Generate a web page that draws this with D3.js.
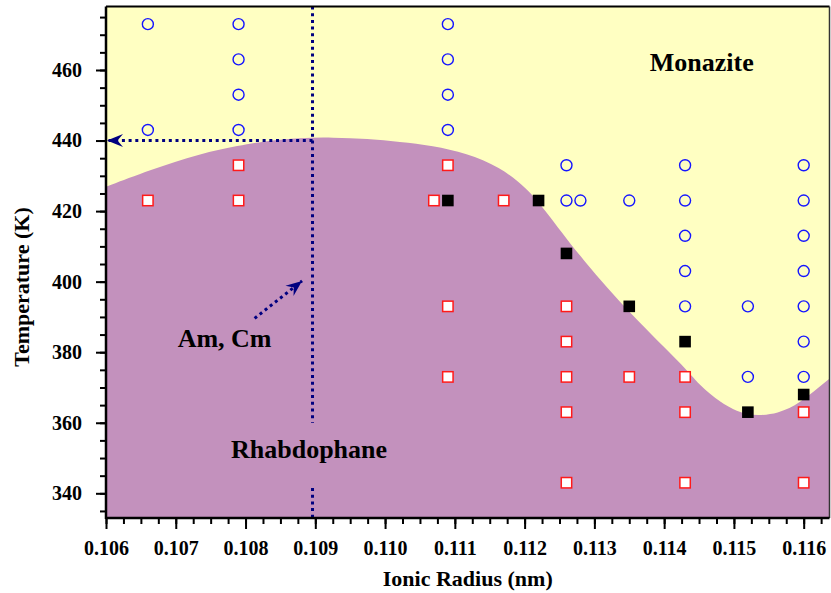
<!DOCTYPE html>
<html><head><meta charset="utf-8">
<script src="https://cdn.jsdelivr.net/npm/d3@7"></script>
<style>body{margin:0;background:#fff}text{font-family:"Liberation Serif","Times New Roman",serif;font-weight:bold}</style>
</head><body><svg id="c" width="831" height="593"></svg>
<script>
// ---- data ----
const xDomain = [0.106, 0.11637];
const yDomain = [333, 478];
const xTickValues = [0.106,0.107,0.108,0.109,0.110,0.111,0.112,0.113,0.114,0.115,0.116];
const yTickValues = [340,360,380,400,420,440,460];
// Monazite observed (blue open circles)
const monazitePts = [
 [0.1066,473],[0.1066,443],
 [0.1079,473],[0.1079,463],[0.1079,453],[0.1079,443],
 [0.1109,473],[0.1109,463],[0.1109,453],[0.1109,443],
 [0.1126,433],[0.1126,423],[0.1128,423],[0.1135,423],
 [0.1143,433],[0.1143,423],[0.1143,413],[0.1143,403],[0.1143,393],
 [0.1152,393],[0.1152,373],
 [0.1160,433],[0.1160,423],[0.1160,413],[0.1160,403],[0.1160,393],[0.1160,383],[0.1160,373]
];
// Rhabdophane observed (red open squares)
const rhabdoPts = [
 [0.1066,423],[0.1079,433],[0.1079,423],[0.1107,423],
 [0.1109,433],[0.1109,393],[0.1109,373],[0.1117,423],
 [0.1126,393],[0.1126,383],[0.1126,373],[0.1126,363],[0.1126,343],
 [0.1135,373],[0.1143,373],[0.1143,363],[0.1143,343],
 [0.1160,363],[0.1160,343]
];
// Transition (black filled squares)
const transitionPts = [
 [0.1109,423],[0.1122,423],[0.1126,408],[0.1135,393],[0.1143,383],[0.1152,363],[0.1160,368]
];
// Phase boundary
const boundary = [
 [0.10588,426],[0.1060,426.9],[0.10663,431.7],[0.10735,436.3],[0.10791,438.6],[0.10829,439.9],
 [0.10878,440.8],[0.10925,440.9],[0.10975,440.5],[0.11021,439.6],[0.11068,438.6],[0.11117,436.4],
 [0.11164,432.6],[0.11203,426.5],[0.11226,421.2],[0.11283,406.1],[0.11355,390.1],
 [0.11427,376.3],[0.11451,370.5],[0.1148,365.8],[0.11518,361.6],[0.11566,362.6],
 [0.11594,365.6],[0.11623,370.2],[0.11645,373.8],[0.1166,376]
];
const amCmRadius = 0.10896;
const amCmTemp = 440;
const vSegments = [[478,360],[341.5,333]];
const diagArrow = [[0.10813,389.6],[0.10881,400.2]];
const labels = [
 {t:"Monazite", x:0.11454, y:459.7},
 {t:"Rhabdophane", x:0.10891, y:349.9},
 {t:"Am, Cm", x:0.10770, y:381.4}
];

// ---- layout ----
const svg = d3.select("#c");
const L=106, T=6.5, R=829.5, B=518;
const x = d3.scaleLinear().domain(xDomain).range([L,R]);
const y = d3.scaleLinear().domain(yDomain).range([B,T]);
const navy="#000080";

svg.append("defs").append("clipPath").attr("id","clip").append("rect")
 .attr("x",L).attr("y",T).attr("width",R-L).attr("height",B-T);
svg.append("defs").append("marker").attr("id","ah").attr("markerUnits","userSpaceOnUse")
 .attr("viewBox","-18 -8 20 16").attr("refX",0).attr("refY",0)
 .attr("markerWidth",20).attr("markerHeight",16).attr("orient","auto")
 .append("path").attr("d","M0,0 L-16,-6.5 L-10.5,0 L-16,6.5 Z").attr("fill",navy);

const g = svg.append("g");
g.append("rect").attr("x",L).attr("y",T).attr("width",R-L).attr("height",B-T).attr("fill","#ffffc2");
g.append("path").datum(boundary).attr("clip-path","url(#clip)")
 .attr("d", d3.area().x(d=>x(d[0])).y0(y(yDomain[0])+2).y1(d=>y(d[1])).curve(d3.curveBasis))
 .attr("fill","#c391bd");

// dotted guide lines
vSegments.forEach(s=>{
 g.append("line").attr("x1",x(amCmRadius)).attr("x2",x(amCmRadius)).attr("y1",y(s[0])).attr("y2",y(s[1]))
  .attr("stroke",navy).attr("stroke-width",3).attr("stroke-dasharray","3,3.7");
});
g.append("line").attr("x1",x(amCmRadius)).attr("x2",x(xDomain[0])+1).attr("y1",y(amCmTemp)).attr("y2",y(amCmTemp))
 .attr("stroke",navy).attr("stroke-width",3).attr("stroke-dasharray","3,3.7").attr("marker-end","url(#ah)");
g.append("line").attr("x1",x(diagArrow[0][0])).attr("y1",y(diagArrow[0][1]))
 .attr("x2",x(diagArrow[1][0])).attr("y2",y(diagArrow[1][1]))
 .attr("stroke",navy).attr("stroke-width",3).attr("stroke-dasharray","3,3.5").attr("marker-end","url(#ah)");

// markers
g.selectAll(".mz").data(monazitePts).join("circle")
 .attr("cx",d=>x(d[0])).attr("cy",d=>y(d[1])).attr("r",5.5)
 .attr("fill","none").attr("stroke","#1515ff").attr("stroke-width",1.4);
g.selectAll(".rh").data(rhabdoPts).join("rect")
 .attr("x",d=>x(d[0])-5.2).attr("y",d=>y(d[1])-5.2).attr("width",10.4).attr("height",10.4)
 .attr("fill","#fff").attr("stroke","#ff1a1a").attr("stroke-width",1.5);
g.selectAll(".tr").data(transitionPts).join("rect")
 .attr("x",d=>x(d[0])-5.8).attr("y",d=>y(d[1])-5.8).attr("width",11.6).attr("height",11.6)
 .attr("fill","#000");

// labels
labels.forEach(l=>{
 g.append("text").attr("x",x(l.x)).attr("y",y(l.y)).attr("text-anchor","middle")
  .attr("font-size",26).attr("fill","#000").text(l.t);
});

// frame
svg.append("line").attr("x1",L).attr("x2",R).attr("y1",T).attr("y2",T).attr("stroke","#000").attr("stroke-width",2);
svg.append("line").attr("x1",R).attr("x2",R).attr("y1",T).attr("y2",B).attr("stroke","#333").attr("stroke-width",1.5);

// axes
const xMinor = d3.range(0,42).map(i=>0.106+i*0.00025).filter(v=>v<=xDomain[1]);
const yMinor = d3.range(335,478,5);
const xa = svg.append("g").attr("transform",`translate(0,${B})`);
xa.call(d3.axisBottom(x).tickValues(xMinor).tickSize(6).tickFormat(""));
xa.call(g2=>g2.select(".domain").remove());
const xa2 = svg.append("g").attr("transform",`translate(0,${B})`)
 .call(d3.axisBottom(x).tickValues(xTickValues).tickSize(11).tickPadding(12).tickFormat(d3.format(".3f")));
xa2.select(".domain").attr("d",`M${L},0H${R}`);
const ya = svg.append("g").attr("transform",`translate(${L},0)`);
ya.call(d3.axisLeft(y).tickValues(yMinor).tickSize(6).tickFormat(""));
ya.call(g2=>g2.select(".domain").remove());
const ya2 = svg.append("g").attr("transform",`translate(${L},0)`)
 .call(d3.axisLeft(y).tickValues(yTickValues).tickSize(10).tickPadding(14).tickFormat(d3.format("d")));
ya2.select(".domain").attr("d",`M0,${T}V${B+1}`);
svg.selectAll(".tick line").attr("stroke","#000").attr("stroke-width",2);
svg.selectAll(".domain").attr("stroke","#000").attr("stroke-width",2.5);
svg.selectAll(".tick text").attr("font-size",20).attr("fill","#000")
 .attr("font-family","'Liberation Serif','Times New Roman',serif").attr("font-weight","bold");

// titles
svg.append("text").attr("x",(L+R)/2).attr("y",586).attr("text-anchor","middle").attr("font-size",22).text("Ionic Radius (nm)");
svg.append("text").attr("transform","translate(29,287) rotate(-90)").attr("text-anchor","middle").attr("font-size",22).text("Temperature (K)");
</script></body></html>
